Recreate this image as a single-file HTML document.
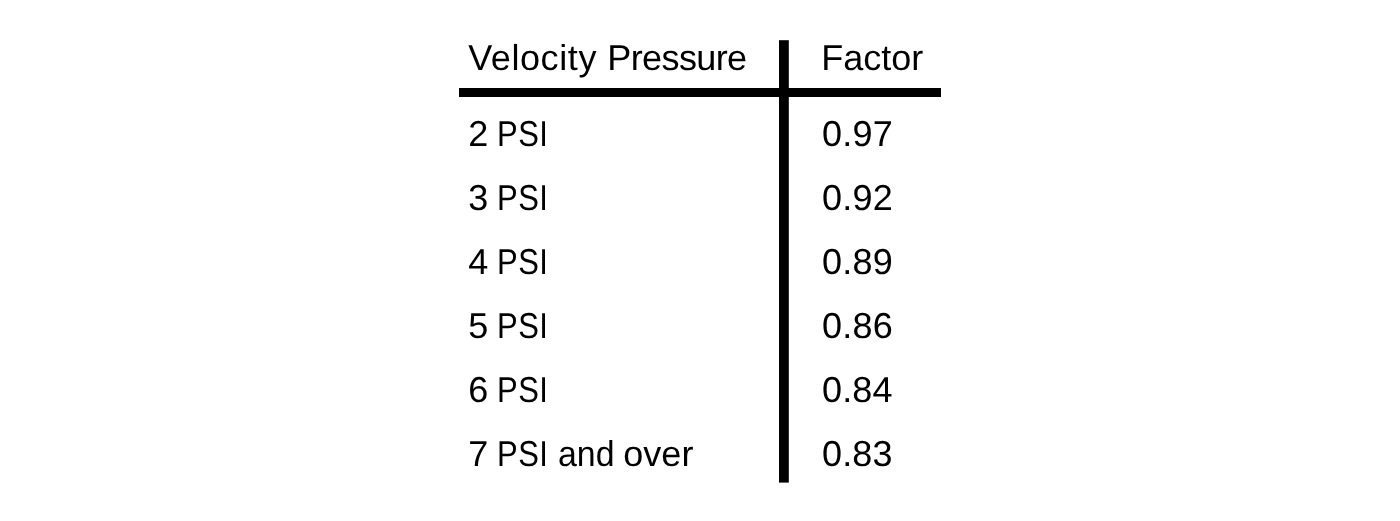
<!DOCTYPE html>
<html lang="en">
<head>
<meta charset="utf-8">
<title>Velocity Pressure Factor</title>
<style>
  html,body{margin:0;padding:0;background:#fff;}
  body{width:1400px;height:521px;position:relative;overflow:hidden;
       font-family:"Liberation Sans",sans-serif;color:#000;text-rendering:geometricPrecision;}
  .t{position:absolute;font-size:36px;line-height:40px;height:40px;white-space:nowrap;}
  .c1{left:468.2px;}
  .c2{left:822.1px;}
  .fac{left:821.2px;}
  .vel{letter-spacing:.59px;}
  .pre{letter-spacing:-.61px;margin-left:0.3px;}
  .psi{display:inline-block;transform-origin:0 50%;transform:scaleX(.86);letter-spacing:.6px;margin-left:-0.9px;}
  .last .psi{margin-right:-9.2px;}
  .and{display:inline-block;transform-origin:0 50%;transform:scaleX(.94);margin-right:-4.96px;}
  .over{letter-spacing:.1px;margin-left:0px;}
  svg.rules{position:absolute;left:0;top:0;width:1400px;height:521px;}
</style>
</head>
<body>
<svg class="rules" width="1400" height="521" viewBox="0 0 1400 521" aria-hidden="true">
  <rect x="459" y="88" width="482" height="9" fill="#000"/>
  <rect x="779" y="40.2" width="9.8" height="442.4" fill="#000"/>
</svg>
<div class="t c1" style="top:38px"><span class="vel">Velocity</span> <span class="pre">Pressure</span></div>
<div class="t c2 fac" style="top:38px">Factor</div>
<div class="t c1" style="top:114px">2 <span class="psi">PSI</span></div>
<div class="t c2" style="top:114px;letter-spacing:0.2px">0.97</div>
<div class="t c1" style="top:178px">3 <span class="psi">PSI</span></div>
<div class="t c2" style="top:178px;letter-spacing:0.2px">0.92</div>
<div class="t c1" style="top:242px">4 <span class="psi">PSI</span></div>
<div class="t c2" style="top:242px;letter-spacing:0.2px">0.89</div>
<div class="t c1" style="top:306px">5 <span class="psi">PSI</span></div>
<div class="t c2" style="top:306px;letter-spacing:0.2px">0.86</div>
<div class="t c1" style="top:370px">6 <span class="psi">PSI</span></div>
<div class="t c2" style="top:370px;letter-spacing:0.1px">0.84</div>
<div class="t c1 last" style="top:434px">7 <span class="psi">PSI</span> <span class="and">and</span> <span class="over">over</span></div>
<div class="t c2" style="top:434px;letter-spacing:0.1px">0.83</div>
</body>
</html>
